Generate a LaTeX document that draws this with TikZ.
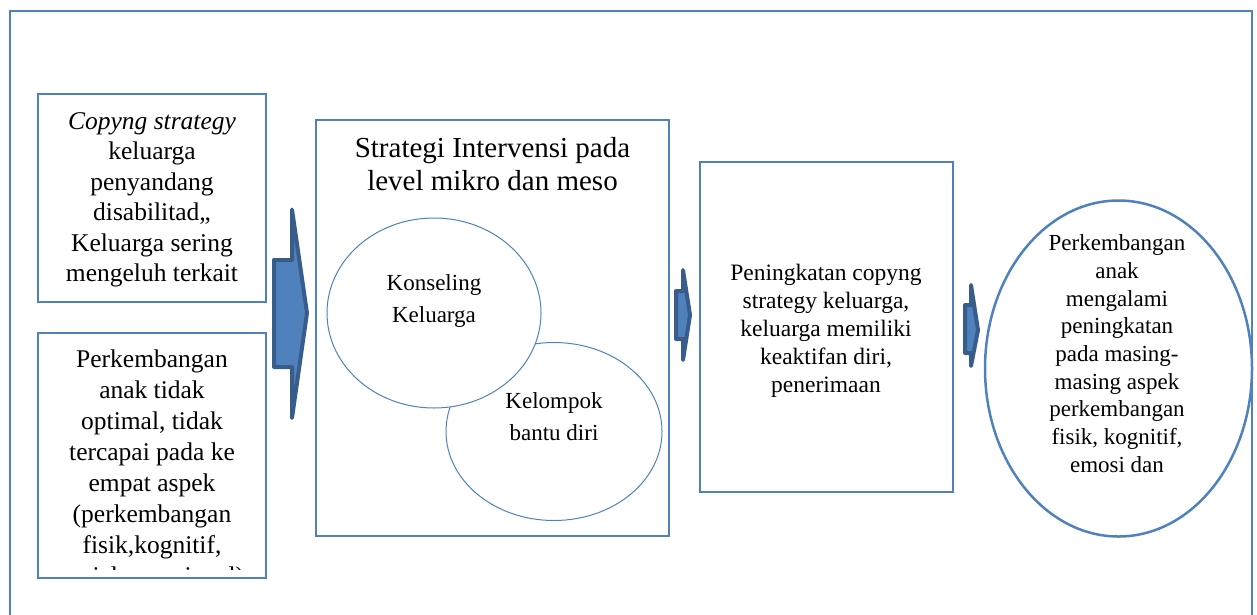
\documentclass[tikz,border=0pt]{standalone}
\usepackage{fontspec}
\setmainfont{Liberation Serif}
\usetikzlibrary{shapes.geometric}
\definecolor{bl}{HTML}{4F81BD}
\definecolor{bd}{HTML}{385D8A}
\begin{document}
\begin{tikzpicture}[x=1pt,y=-1pt,
  frameline/.style={draw=bl,line width=2.3pt},
  box/.style={draw=bl,line width=2.5pt,rectangle,inner sep=0pt},
  circ/.style={draw=bl,line width=1pt,ellipse,inner sep=0pt},
  bigell/.style={draw=bl,line width=2.5pt,ellipse,inner sep=0pt},
  txt/.style={align=center,inner sep=0pt,anchor=north},
  blockarrow/.style={fill=bl,draw=bd,line width=4pt,line join=round}]
\useasboundingbox (0,0) rectangle (1257,614);
% outer frame
\coordinate (fa) at (10,640);
\coordinate (fb) at (10,11);
\coordinate (fc) at (1252,11);
\coordinate (fd) at (1252,640);
\draw[frameline] (fa) -- (fb) -- (fc) -- (fd);
% boxes
\node[box,minimum width=228pt,minimum height=208pt] (b1) at (152,198) {};
\node[box,minimum width=228pt,minimum height=245pt] (b2) at (152,455.5) {};
\node[box,minimum width=353pt,minimum height=416pt] (mid) at (492.5,328) {};
\node[box,minimum width=253pt,minimum height=330pt] (b3) at (826.5,327) {};
\node[bigell,minimum width=267pt,minimum height=336pt] (ell) at (1118.5,368.5) {};
% circles
\node[circ,minimum width=216pt,minimum height=178pt] (kel) at (554,431.5) {};
\node[circ,fill=white,minimum width=214pt,minimum height=190pt] (kon) at (434,313) {};
% texts
\node[txt,font=\fontsize{25.5}{30.5}\selectfont] (t1) at (152,112)
  {\textit{Copyng strategy}\\keluarga\\penyandang\\disabilitad,,\\Keluarga sering\\mengeluh terkait};
\begin{scope}
\clip (38,333) rectangle (266,569);
\node[txt,font=\fontsize{25.5}{31}\selectfont] (t2) at (152,349.5)
  {Perkembangan\\anak tidak\\optimal, tidak\\tercapai pada ke\\empat aspek\\(perkembangan\\fisik,kognitif,\\sosial, emosional)};
\end{scope}
\node[txt,font=\fontsize{29}{33}\selectfont] (title) at (492.5,137) {Strategi Intervensi pada\\level mikro dan meso};
\node[txt,font=\fontsize{23}{32}\selectfont] (tkon) at (434,274.5) {Konseling\\Keluarga};
\node[txt,font=\fontsize{23}{32}\selectfont] (tkel) at (554,392.5) {Kelompok\\bantu diri};
\node[txt,font=\fontsize{23.5}{28}\selectfont] (t3) at (826,264) {Peningkatan copyng\\strategy keluarga,\\keluarga memiliki\\keaktifan diri,\\penerimaan};
\node[txt,font=\fontsize{23}{27.7}\selectfont] (te) at (1117,234.5) {Perkembangan\\anak\\mengalami\\peningkatan\\pada masing-\\masing aspek\\perkembangan\\fisik, kognitif,\\emosi dan};
% block arrows
\draw[blockarrow] (274,260) -- (292,260) -- (292,209.5) -- (307,313) -- (292,418) -- (292,367) -- (274,367) -- cycle;
\draw[blockarrow] (676,291) -- (683,291) -- (683,270) -- (690,315) -- (683,360) -- (683,339) -- (676,339) -- cycle;
\draw[blockarrow] (965,305) -- (971,305) -- (971,285) -- (978,330) -- (971,366) -- (971,353) -- (965,353) -- cycle;
\end{tikzpicture}
\end{document}
